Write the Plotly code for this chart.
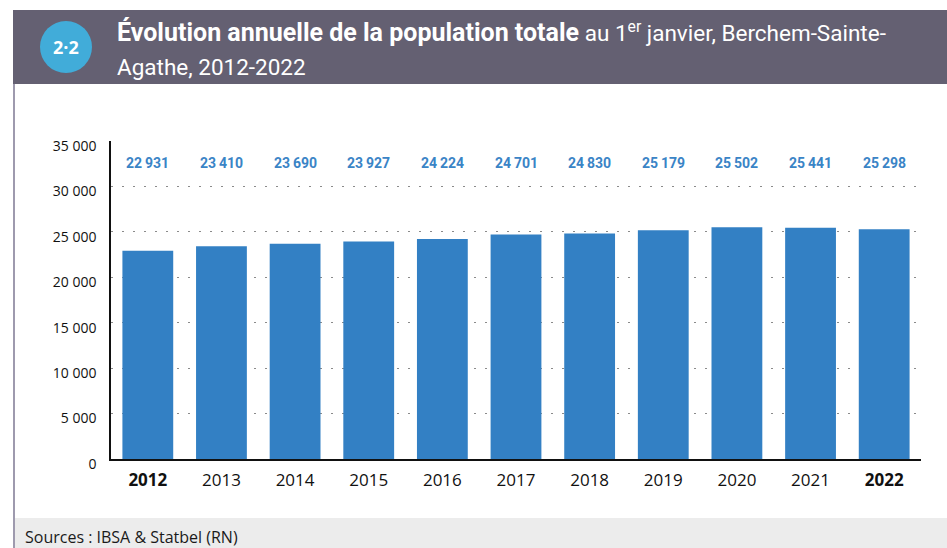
import plotly.graph_objects as go

years = ["2012", "2013", "2014", "2015", "2016", "2017", "2018", "2019", "2020", "2021", "2022"]
population = [22931, 23410, 23690, 23927, 24224, 24701, 24830, 25179, 25502, 25441, 25298]
bold_years = ["2012", "2022"]
y_ticks = [0, 5000, 10000, 15000, 20000, 25000, 30000, 35000]

W, H = 947, 548
ML, MR, MT, MB = 111, 26, 141, 89
PW, PH = W - ML - MR, H - MT - MB

def px(x):
    return (x - ML) / PW

def py(y):
    return (H - MB - y) / PH

COND = "Roboto, Open Sans, sans-serif"
BASE = "Open Sans, Noto Sans, sans-serif"

def fmt(v):
    return f"{v:,}".replace(",", "\u2009")

fig = go.Figure()
fig.add_trace(go.Bar(
    x=years, y=population, marker_color="#3380c4", marker_line_width=0,
    hoverinfo="x+y",
))

annotations = []
for i, v in enumerate(population):
    annotations.append(dict(
        x=i, y=py(163), xref="x", yref="paper", text=f"<b>{fmt(v)}</b>",
        showarrow=False, font=dict(family=COND, size=14, color="#3a84c6"),
        xanchor="center", yanchor="middle",
    ))

# title
annotations.append(dict(
    x=px(115), y=py(32), xref="paper", yref="paper", xanchor="left", yanchor="middle",
    showarrow=False, align="left",
    text="<span style=\"font-size:25px\"><b>Évolution annuelle de la population totale</b></span> au 1<sup>er</sup> janvier, Berchem-Sainte-",
    font=dict(family=COND, size=22.5, color="white"),
))
annotations.append(dict(
    x=px(115), y=py(67), xref="paper", yref="paper", xanchor="left", yanchor="middle",
    showarrow=False, align="left", text="Agathe, 2012-2022",
    font=dict(family=COND, size=22.5, color="white"),
))
annotations.append(dict(
    x=px(66), y=py(47), xref="paper", yref="paper", xanchor="center", yanchor="middle",
    showarrow=False, text="<b>2·2</b>",
    font=dict(family=BASE, size=18, color="white"),
))
annotations.append(dict(
    x=px(23), y=py(537), xref="paper", yref="paper", xanchor="left", yanchor="middle",
    showarrow=False, text="Sources : IBSA & Statbel (RN)",
    font=dict(family=BASE, size=16, color="#1a1a1a"),
))

shapes = [
    dict(type="rect", xref="paper", yref="paper", x0=px(13), x1=px(W + 5), y0=py(10), y1=py(84),
         fillcolor="#646072", line_width=0, layer="below"),
    dict(type="rect", xref="paper", yref="paper", x0=px(14), x1=px(W + 5), y0=py(518), y1=py(H + 5),
         fillcolor="#ececec", line_width=0, layer="below"),
    dict(type="line", xref="paper", yref="paper", x0=px(14), x1=px(14), y0=py(84), y1=py(H + 5),
         line=dict(color="#9e9aae", width=2)),
    dict(type="circle", xref="paper", yref="paper", x0=px(40), x1=px(92), y0=py(21), y1=py(73),
         fillcolor="#41acd9", line_width=0),
]

fig.update_layout(
    width=W, height=H,
    margin=dict(l=ML, r=MR, t=MT, b=MB, pad=0),
    paper_bgcolor="white", plot_bgcolor="white",
    separators=", ",
    bargap=0.31,
    showlegend=False,
    annotations=annotations,
    shapes=shapes,
    font=dict(family=BASE, color="#111"),
)
fig.update_xaxes(
    type="category", tickvals=years, range=[-0.5, len(years) - 0.5],
    ticktext=[f"<b>{y}</b>" if y in bold_years else y for y in years],
    tickfont=dict(family=BASE, size=17, color="#111"),
    showline=True, linecolor="#111", linewidth=2, showgrid=False,
    ticks="", ticklabelstandoff=5, zeroline=False,
)
fig.update_yaxes(
    range=[0, 35000], tickvals=y_ticks, tickformat=",d",
    tickfont=dict(family=BASE, size=14, color="#111"),
    showline=True, linecolor="#111", linewidth=1.5,
    showgrid=True, gridcolor="#8a8a8a", gridwidth=1, griddash="2px,9px",
    ticks="", ticklabelstandoff=10, ticklabelshift=5, zeroline=False,
)

fig.write_html(
    "out.html",
    config={"displayModeBar": False},
    post_script="document.body.style.margin='0px';document.body.style.overflow='hidden';",
)
